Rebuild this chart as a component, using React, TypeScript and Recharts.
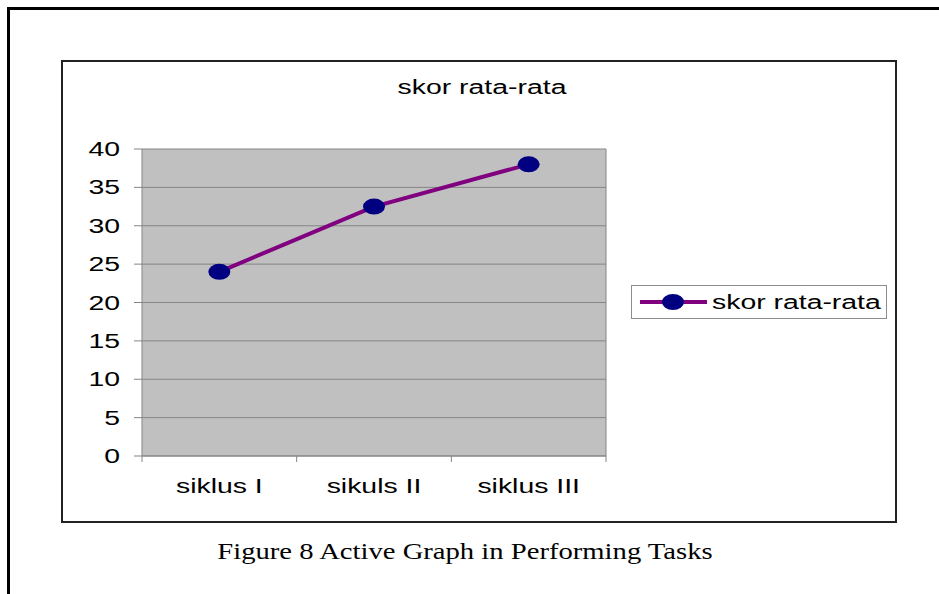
import React from "react";
import {
  LineChart,
  Line,
  XAxis,
  YAxis,
  CartesianGrid,
  Legend,
} from "recharts";

const categories = ["siklus I", "sikuls II", "siklus III"];
const scores = [24, 32.5, 38];
const yTicks = [0, 5, 10, 15, 20, 25, 30, 35, 40];
const seriesName = "skor rata-rata";
const caption = "Figure 8 Active Graph in Performing Tasks";

// category i sits in the middle of band [i, i+1]
const data = categories.map((c, i) => ({ name: c, pos: i + 0.5, score: scores[i] }));
// band edges get a tick mark, band middles get a label
const xTicks = [0, 0.5, 1, 1.5, 2, 2.5, 3];

const SANS = "'Liberation Sans', Arial, sans-serif";
const STRETCH = 1.42;
const GRAY = "#858585";

const YTick = ({ x, y, payload }: any) => (
  <text
    x={0}
    y={0}
    transform={`translate(${x},${y + 7}) scale(${STRETCH},1)`}
    textAnchor="end"
    fontSize={20}
    fontFamily={SANS}
    fill="#000"
  >
    {payload.value}
  </text>
);

const XTick = ({ x, y, payload }: any) => {
  const v = payload.value;
  if (Number.isInteger(v)) {
    return <line x1={x} y1={y} x2={x} y2={y + 6} stroke={GRAY} strokeWidth={1} />;
  }
  return (
    <text
      x={0}
      y={0}
      transform={`translate(${x},${y + 37}) scale(${STRETCH},1)`}
      textAnchor="middle"
      fontSize={20}
      fontFamily={SANS}
      fill="#000"
    >
      {categories[Math.floor(v)]}
    </text>
  );
};

const Dot = ({ cx, cy, index }: any) => (
  <ellipse key={index} cx={cx} cy={cy} rx={11} ry={8} fill="#000080" />
);

const LegendBox = () => (
  <div
    style={{
      width: 256,
      height: 34,
      border: "1px solid #8c8c8c",
      boxSizing: "border-box",
      position: "relative",
      background: "#fff",
    }}
  >
    <svg width={254} height={32} style={{ position: "absolute", left: 0, top: 0 }}>
      <line x1={8} y1={16} x2={75} y2={16} stroke="#800080" strokeWidth={4} />
      <ellipse cx={41} cy={16} rx={11} ry={8} fill="#000080" />
      <text
        x={0}
        y={0}
        transform={`translate(80,23) scale(${STRETCH},1)`}
        fontSize={20}
        fontFamily={SANS}
        fill="#000"
      >
        {seriesName}
      </text>
    </svg>
  </div>
);

export default function App() {
  return (
    <div
      style={{
        position: "fixed",
        left: 0,
        top: 0,
        width: 939,
        height: 594,
        background: "#fff",
        overflow: "hidden",
      }}
    >
      {/* page frame */}
      <div
        style={{
          position: "absolute",
          left: 7,
          top: 7,
          width: 940,
          height: 590,
          borderTop: "3px solid #000",
          borderLeft: "3px solid #000",
        }}
      />
      {/* chart box */}
      <div
        style={{
          position: "absolute",
          left: 61,
          top: 60,
          width: 832,
          height: 459,
          border: "2px solid #222",
        }}
      />
      <div
        style={{
          position: "absolute",
          left: 0,
          top: 76,
          width: 964,
          textAlign: "center",
          fontFamily: SANS,
          fontSize: 20,
          transform: `scaleX(${STRETCH})`,
          transformOrigin: "482px 0",
          color: "#000",
        }}
      >
        {seriesName}
      </div>
      <div style={{ position: "absolute", left: 0, top: 0 }}>
        <LineChart
          width={939}
          height={594}
          data={data}
          margin={{ top: 149, right: 332, left: 82, bottom: 98 }}
        >
          <CartesianGrid
            horizontal
            vertical={false}
            fill="#c0c0c0"
            fillOpacity={1}
            stroke={GRAY}
            strokeWidth={1}
          />
          <XAxis
            dataKey="pos"
            type="number"
            domain={[0, 3]}
            ticks={xTicks}
            interval={0}
            tick={<XTick />}
            height={40}
            axisLine={{ stroke: GRAY }}
            tickLine={false}
            tickSize={0}
            tickMargin={0}
          />
          <YAxis
            domain={[0, 40]}
            ticks={yTicks}
            width={60}
            tick={<YTick />}
            axisLine={{ stroke: GRAY }}
            tickLine={{ stroke: GRAY }}
            tickSize={8}
            tickMargin={14}
            interval={0}
          />
          <YAxis
            yAxisId="r"
            orientation="right"
            domain={[0, 40]}
            width={1}
            tick={false}
            tickLine={false}
            axisLine={{ stroke: GRAY }}
          />
          <Legend
            layout="horizontal"
            verticalAlign="middle"
            align="center"
            content={<LegendBox />}
            wrapperStyle={{ position: "absolute", left: 631, top: 285, width: 256, height: 34 }}
          />
          <Line
            type="linear"
            dataKey="score"
            name={seriesName}
            stroke="#800080"
            strokeWidth={4}
            dot={<Dot />}
            activeDot={false}
            isAnimationActive={false}
          />
        </LineChart>
      </div>
      <div
        style={{
          position: "absolute",
          left: 0,
          top: 539,
          width: 930,
          textAlign: "center",
          fontFamily: "'Liberation Serif', 'Times New Roman', serif",
          fontSize: 23,
          transform: "scaleX(1.245)",
          transformOrigin: "465px 0",
          color: "#000",
        }}
      >
        {caption}
      </div>
    </div>
  );
}
